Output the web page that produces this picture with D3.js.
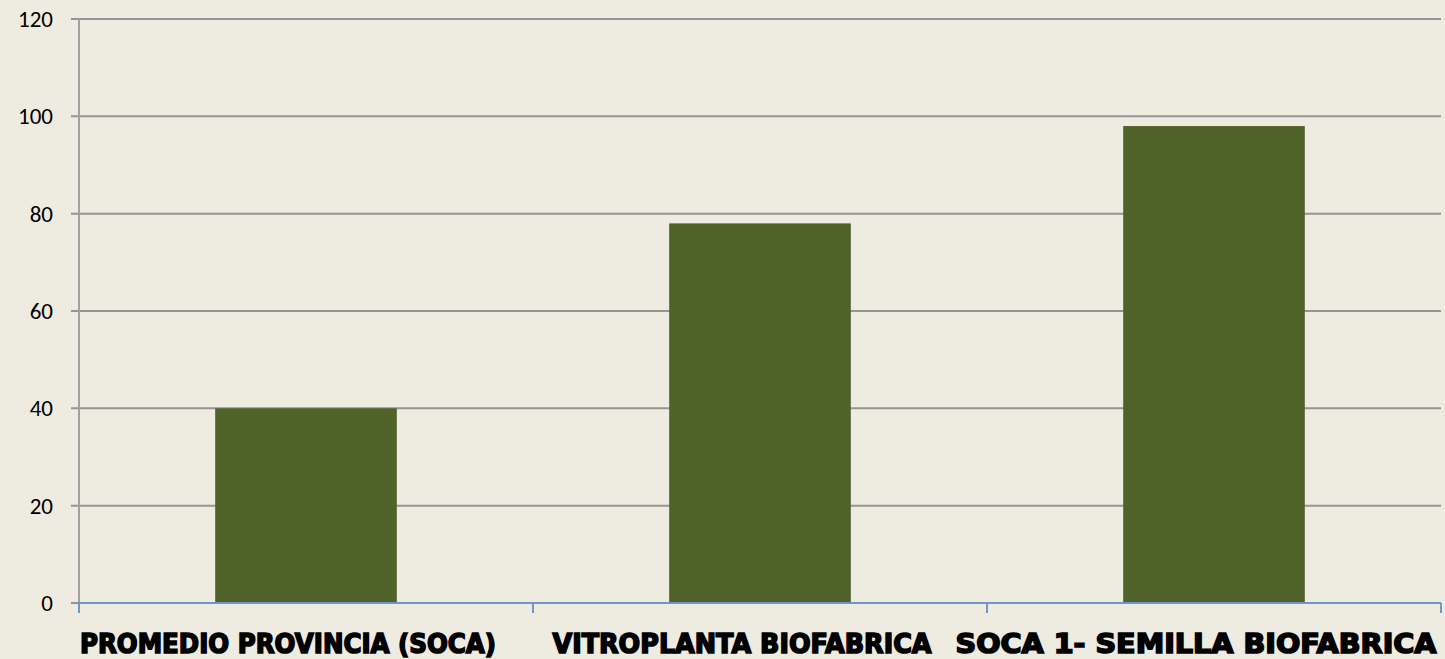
<!DOCTYPE html>
<html>
<head>
<meta charset="utf-8">
<script src="https://cdn.jsdelivr.net/npm/d3@7"></script>
<style>
  body { margin: 0; background: #eeebe0; }
  svg { display: block; }
</style>
</head>
<body>
<svg class="chart"></svg>
<script>
'use strict';

var categories = ['PROMEDIO PROVINCIA (SOCA)', 'VITROPLANTA BIOFABRICA', 'SOCA 1- SEMILLA BIOFABRICA'];
var values = [40, 78, 98];
var yTicks = [0, 20, 40, 60, 80, 100, 120];

var width = 1445;
var height = 659;
var margin = {top: 19, right: 4, bottom: 56, left: 79};

var svg = d3.select('.chart')
    .attr('width', width)
    .attr('height', height);

svg.append('rect')
    .attr('width', width)
    .attr('height', height)
    .style('fill', '#eeebe0');

var x = d3.scaleBand()
    .domain(categories)
    .range([margin.left, width - margin.right])
    .paddingInner(0.6)
    .paddingOuter(0.3);

var xLine = d3.scalePoint()
    .domain(d3.range(categories.length + 1))
    .range([margin.left, width - margin.right]);

var y = d3.scaleLinear()
    .domain([0, 120])
    .range([height - margin.bottom, margin.top]);

// gridlines
svg.append('g')
    .selectAll('line')
    .data(yTicks.slice(1))
    .enter().append('line')
    .attr('x1', margin.left - 8)
    .attr('x2', width - margin.right)
    .attr('y1', function (d) {return y(d);})
    .attr('y2', function (d) {return y(d);})
    .attr('stroke', '#949494')
    .attr('stroke-width', 2);

// y axis line
svg.append('line')
    .attr('x1', margin.left).attr('x2', margin.left)
    .attr('y1', y(120)).attr('y2', y(0))
    .attr('stroke', '#a0a0a0')
    .attr('stroke-width', 2);

// zero tick
svg.append('line')
    .attr('x1', margin.left - 8).attr('x2', margin.left)
    .attr('y1', y(0)).attr('y2', y(0))
    .attr('stroke', '#949494')
    .attr('stroke-width', 2);

// y labels
svg.append('g')
    .selectAll('text')
    .data(yTicks)
    .enter().append('text')
    .attr('x', 53)
    .attr('y', function (d) {return y(d);})
    .attr('dy', '0.35em')
    .attr('text-anchor', 'end')
    .attr('font-family', 'Carlito, "Open Sans", "Liberation Sans", sans-serif')
    .attr('font-size', 23)
    .attr('fill', '#000')
    .text(function (d) {return d;});

// bars
svg.append('g')
    .selectAll('rect')
    .data(values)
    .enter().append('rect')
    .attr('x', function (d, i) {return x(categories[i]);})
    .attr('width', x.bandwidth())
    .attr('y', function (d) {return y(d);})
    .attr('height', function (d) {return y(0) - y(d);})
    .attr('fill', '#4f6228');

// x axis
svg.append('line')
    .attr('x1', margin.left).attr('x2', width - margin.right)
    .attr('y1', y(0)).attr('y2', y(0))
    .attr('stroke', '#6f95cc')
    .attr('stroke-width', 2);

svg.append('g')
    .selectAll('line')
    .data(xLine.domain())
    .enter().append('line')
    .attr('x1', function (d) {return xLine(d);})
    .attr('x2', function (d) {return xLine(d);})
    .attr('y1', y(0))
    .attr('y2', y(0) + 10)
    .attr('stroke', '#6f95cc')
    .attr('stroke-width', 2);

var labelWidths = [416, 379, 481];

svg.append('g')
    .selectAll('text')
    .data(categories)
    .enter().append('text')
    .attr('x', function (d, i) {return x(d) + x.bandwidth() / 2 - 18;})
    .attr('y', 653)
    .attr('text-anchor', 'middle')
    .attr('font-family', '"Arial Black", "DejaVu Sans", sans-serif')
    .attr('font-weight', 'bold')
    .attr('font-size', 26)
    .attr('textLength', function (d, i) {return labelWidths[i];})
    .attr('lengthAdjust', 'spacingAndGlyphs')
    .attr('fill', '#000')
    .attr('stroke', '#000')
    .attr('stroke-width', 1.6)
    .text(function (d) {return d;});
</script>
</body>
</html>
